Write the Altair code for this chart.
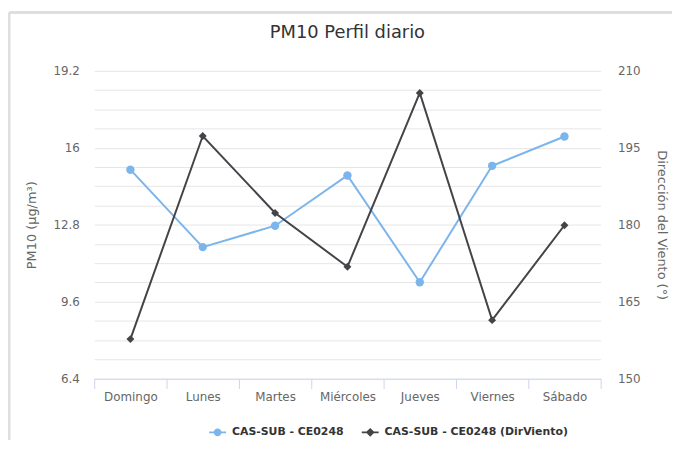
import altair as alt
import pandas as pd

# ---- data ----
days = ["Domingo", "Lunes", "Martes", "Miércoles", "Jueves", "Viernes", "Sábado"]
pm10 = [15.09, 11.87, 12.76, 14.85, 10.41, 15.25, 16.47]
wind_dir = [157.7, 197.3, 182.3, 171.8, 205.7, 161.4, 179.9]

series_names = ["CAS-SUB - CE0248", "CAS-SUB - CE0248 (DirViento)"]
series_colors = ["#7cb5ec", "#434348"]

left_major = [6.4, 9.6, 12.8, 16, 19.2]
left_grid = [6.4, 7.2, 8.0, 8.8, 9.6, 10.4, 11.2, 12.0, 12.8, 13.6, 14.4,
             15.2, 16.0, 16.8, 17.6, 18.4, 19.2]
right_major = [150, 165, 180, 195, 210]

df = pd.DataFrame({"day": days, "pm10": pm10, "wind": wind_dir})
legend_df = pd.DataFrame({"series": series_names})
frame_df = pd.DataFrame({"a": [0]})

FONT = "DejaVu Sans"

x_enc = alt.X(
    "day:N",
    sort=days,
    bandPosition=0.5,
    scale=alt.Scale(type="band", paddingInner=0, paddingOuter=0),
    axis=alt.Axis(
        title=None,
        labelAngle=0,
        tickBand="extent",
        grid=False,
        domainColor="#ccd6eb",
        tickColor="#ccd6eb",
        tickSize=10,
        labelPadding=3,
        labelFontSize=12,
        labelColor="#666666",
    ),
)

major_str = "[" + ",".join(str(v) for v in left_major) + "]"

y_left = alt.Y(
    "pm10:Q",
    scale=alt.Scale(domain=[left_grid[0], left_grid[-1]], nice=False, zero=False),
    axis=alt.Axis(
        title="PM10 (µg/m³)",
        values=left_grid,
        labelExpr=f"indexof({major_str}, datum.value) >= 0 ? format(datum.value, '~g') : ''",
        grid=True,
        gridColor="#e6e6e6",
        gridWidth=1,
        domain=False,
        ticks=False,
        labelPadding=15,
        labelFontSize=12,
        labelColor="#666666",
        titleFontSize=13,
        titleFontWeight="normal",
        titleColor="#666666",
        titlePadding=15,
    ),
)

y_right = alt.Y(
    "wind:Q",
    scale=alt.Scale(domain=[right_major[0], right_major[-1]], nice=False, zero=False),
    axis=alt.Axis(
        title="Dirección del Viento (°)",
        orient="right",
        values=right_major,
        grid=False,
        domain=False,
        ticks=False,
        labelPadding=17,
        labelFontSize=12,
        labelColor="#666666",
        titleFontSize=13,
        titleFontWeight="normal",
        titleColor="#666666",
        titlePadding=14,
    ),
)

base = alt.Chart(df)

blue_line = base.mark_line(color=series_colors[0], strokeWidth=2).encode(x=x_enc, y=y_left)
blue_pts = base.mark_point(filled=True, shape="circle", size=72, opacity=1,
                           color=series_colors[0]).encode(x=x_enc, y=y_left)

circle_path = ("M-2,-0.235H2V0.235H-2Z "
               "M0,-0.94A0.94,0.94 0 1,1 0,0.94A0.94,0.94 0 1,1 0,-0.94Z")
diamond_path = ("M-2,-0.235H2V0.235H-2Z "
                "M0,-1.06L1.06,0L0,1.06L-1.06,0Z")

legend_props = dict(
    title=None, orient="none", direction="horizontal",
    legendX=119, legendY=359, padding=0,
    labelFont=FONT, labelFontSize=11, labelFontWeight="bold",
    labelColor="#333333", labelOffset=9, columnPadding=18, labelLimit=400,
    symbolSize=72, symbolStrokeWidth=0,
)

legend_layer = alt.Chart(legend_df).transform_filter("false").mark_point(
    filled=True, opacity=1
).encode(
    color=alt.Color("series:N",
                    scale=alt.Scale(domain=series_names, range=series_colors),
                    legend=alt.Legend(**legend_props)),
    shape=alt.Shape("series:N",
                    scale=alt.Scale(domain=series_names, range=[circle_path, diamond_path]),
                    legend=alt.Legend(**legend_props)),
)

frame_left = alt.Chart(frame_df).mark_rule(color="#dedede", strokeWidth=3).encode(
    x=alt.value(-86), y=alt.value(-59), y2=alt.value(400)
)
frame_top = alt.Chart(frame_df).mark_rule(color="#dedede", strokeWidth=3).encode(
    x=alt.value(-86), x2=alt.value(590), y=alt.value(-59)
)

left = alt.layer(frame_left, frame_top, blue_line, blue_pts, legend_layer)

black_line = base.mark_line(color=series_colors[1], strokeWidth=2).encode(x=x_enc, y=y_right)
black_pts = base.mark_point(filled=True, shape="diamond", size=64, opacity=1,
                            color=series_colors[1]).encode(x=x_enc, y=y_right)
right = alt.layer(black_line, black_pts)

chart = alt.layer(left, right).resolve_scale(y="independent").properties(
    width=511,
    height=310.5,
    title=alt.TitleParams("PM10 Perfil diario", fontSize=18, fontWeight="normal",
                          color="#333333", font=FONT, frame="group",
                          anchor="middle", offset=-31),
    autosize=alt.AutoSizeParams(type="none"),
    padding={"left": 87, "top": 61.5, "right": 72, "bottom": 60},
).configure(font=FONT).configure_view(stroke=None)

chart.save("out.html", embed_options={"renderer": "svg", "actions": False})
